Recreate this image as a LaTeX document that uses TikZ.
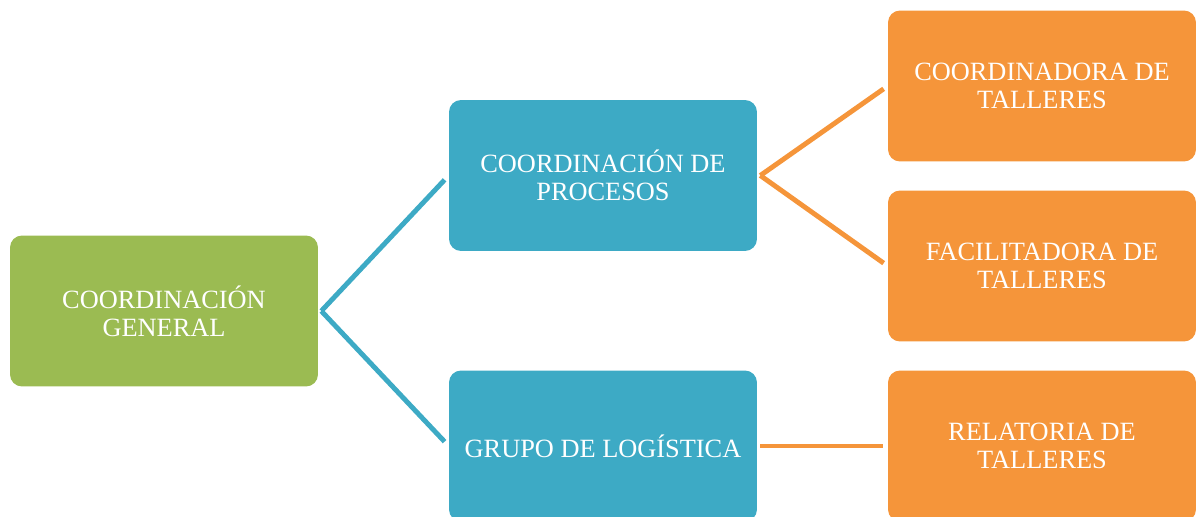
\documentclass[tikz,border=0pt]{standalone}
\usepackage{fontspec}
\setmainfont{Liberation Serif}
\usepackage{tikz}
\usetikzlibrary{positioning, calc}
\definecolor{generalcolor}{RGB}{155, 187, 82}
\definecolor{procesocolor}{RGB}{61, 170, 197}
\definecolor{tallercolor}{RGB}{245, 149, 58}

\begin{document}
\begin{tikzpicture}[x=0.02cm, y=-0.02cm,
    box/.style={rounded corners=0.24cm, minimum width=6.16cm, minimum height=3.02cm,
        align=center, text=white, font=\fontsize{15}{16}\selectfont, inner sep=0pt},
    generalbox/.style={box, fill=generalcolor},
    procesobox/.style={box, fill=procesocolor},
    tallerbox/.style={box, fill=tallercolor},
    link/.style={line width=2.8pt, line cap=butt}]
    \useasboundingbox (0, 0) rectangle (1200, 517);

    % Level 1
    \node[generalbox] (general) at (164, 311) {COORDINACIÓN\\GENERAL};

    % Level 2
    \node[procesobox] (procesos) at (603, 175.5) {COORDINACIÓN DE\\PROCESOS};
    \node[procesobox] (logistica) at (603, 446) {GRUPO DE LOGÍSTICA};

    % Level 3
    \node[tallerbox] (coordinadora) at (1042, 86) {COORDINADORA DE\\TALLERES};
    \node[tallerbox] (facilitadora) at (1042, 266) {FACILITADORA DE\\TALLERES};
    \node[tallerbox] (relatoria) at (1042, 446) {RELATORIA DE\\TALLERES};

    % Junction points
    \coordinate (jgeneral) at ($(general.east) + (3, 0)$);
    \coordinate (jprocesos) at ($(procesos.east) + (3, 0)$);
    \coordinate (jlogistica) at ($(logistica.east) + (3, 0)$);

    % Connectors
    \draw[link, procesocolor, shorten >=3.4pt] (jgeneral) -- (procesos.west);
    \draw[link, procesocolor, shorten >=3.4pt] (jgeneral) -- (logistica.west);
    \draw[link, tallercolor, shorten >=2.8pt] (jprocesos) -- (coordinadora.west);
    \draw[link, tallercolor, shorten >=2.8pt] (jprocesos) -- (facilitadora.west);
    \draw[link, tallercolor, shorten >=2.8pt] (jlogistica) -- (relatoria.west);
\end{tikzpicture}
\end{document}
